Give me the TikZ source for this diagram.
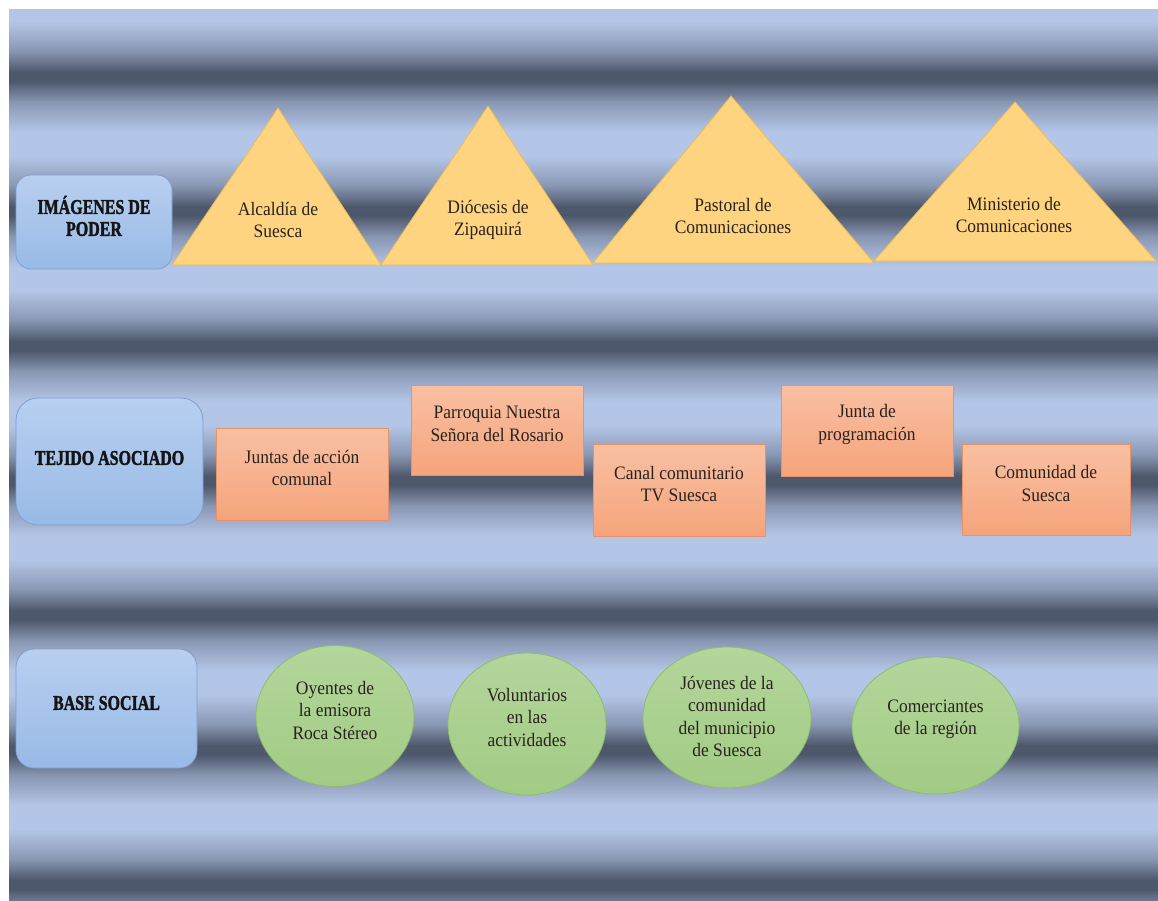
\documentclass[tikz,border=0pt]{standalone}
\usepackage{fontspec}
\setmainfont{Liberation Serif}[FakeStretch=0.92]
\newfontfamily\headfont{Liberation Serif Bold}[FakeStretch=0.76,FakeBold=1.6]
\usetikzlibrary{shapes.geometric}
\definecolor{bgL}{HTML}{B4C6E7}
\definecolor{bgM}{HTML}{8896B2}
\definecolor{bgD}{HTML}{4E586C}
\definecolor{labT}{HTML}{B8CFF0}
\definecolor{labB}{HTML}{98BAE6}
\definecolor{labE}{HTML}{809FCF}
\definecolor{triF}{HTML}{FFD480}
\definecolor{triE}{HTML}{EDBB55}
\definecolor{orT}{HTML}{F9C0A2}
\definecolor{orB}{HTML}{F5A47C}
\definecolor{orE}{HTML}{E8926A}
\definecolor{grT}{HTML}{B3D69B}
\definecolor{grB}{HTML}{A2CB84}
\definecolor{grE}{HTML}{8DBC6D}
\definecolor{txt}{HTML}{2A221E}
\tikzset{
  labbox/.style={draw=labE, line width=0.8pt, top color=labT, bottom color=labB, inner sep=0pt},
  headtxt/.style={font=\headfont\fontsize{21}{22}\selectfont, text=black!92, align=center, inner sep=0pt},
  tribox/.style={draw=triE, line width=0.8pt, fill=triF, line join=miter},
  orbox/.style={draw=orE, line width=0.8pt, top color=orT, bottom color=orB, inner sep=0pt, minimum width=172pt, minimum height=91pt},
  grell/.style={ellipse, draw=grE, line width=0.8pt, top color=grT, bottom color=grB, inner sep=0pt},
  bodytxt/.style={font=\fontsize{19}{22.5}\selectfont, text=txt, align=center, inner sep=0pt}
}
\begin{document}
\begin{tikzpicture}[x=1pt,y=-1pt]
\useasboundingbox (0,0) rectangle (1158,900);
% background stripes
\begin{scope}
\clip (9,9) rectangle (1158,900);
\fill[bgL] (9,9) rectangle (1158,900);
\foreach \k in {0,...,6} {
  \pgfmathsetmacro{\yy}{9+\k*134.7}
  \shade[top color=bgL, bottom color=bgM] (9,\yy+12) rectangle (1158,\yy+42.5);
  \shade[top color=bgM, bottom color=bgD] (9,\yy+42) rectangle (1158,\yy+63);
  \fill[bgD] (9,\yy+62.5) rectangle (1158,\yy+72.5);
  \shade[top color=bgD, bottom color=bgM] (9,\yy+72) rectangle (1158,\yy+93);
  \shade[top color=bgM, bottom color=bgL] (9,\yy+92.5) rectangle (1158,\yy+123);
}
\end{scope}

% row labels
\node[labbox, rounded corners=15pt, minimum width=156pt, minimum height=94pt] (l1) at (94,222) {};
\node[headtxt] (h1) at (94,216) {IMÁGENES DE\\PODER};
\node[labbox, rounded corners=22pt, minimum width=187pt, minimum height=127pt] (l2) at (109.5,461.5) {};
\node[headtxt] (h2) at (109.5,458) {TEJIDO ASOCIADO};
\node[labbox, rounded corners=18pt, minimum width=181pt, minimum height=119pt] (l3) at (106.5,708.5) {};
\node[headtxt] (h3) at (106.5,703) {BASE SOCIAL};

% triangles
\filldraw[tribox] (172,265) -- (278,108) -- (381,265) -- cycle;
\filldraw[tribox] (381,265) -- (488,106) -- (593,265) -- cycle;
\filldraw[tribox] (593,263) -- (731,96) -- (874,263) -- cycle;
\filldraw[tribox] (874,261) -- (1015,102) -- (1156,261) -- cycle;
\node[bodytxt] (t1) at (278,220) {Alcaldía de\\Suesca};
\node[bodytxt] (t2) at (488,220) {Diócesis de\\Zipaquirá};
\node[bodytxt] (t3) at (733,216) {Pastoral de\\Comunicaciones};
\node[bodytxt] (t4) at (1014,215) {Ministerio de\\Comunicaciones};

% orange boxes
\node[orbox, minimum height=92pt] (b1) at (302.5,474) {};
\node[bodytxt] (bt1) at (302,468) {Juntas de acción\\comunal};
\node[orbox, minimum height=90pt] (b2) at (497,430) {};
\node[bodytxt] (bt2) at (497,424) {Parroquia Nuestra\\Señora del Rosario};
\node[orbox, minimum height=92pt] (b3) at (679,490) {};
\node[bodytxt] (bt3) at (679,484) {Canal comunitario\\TV Suesca};
\node[orbox, minimum height=91pt] (b4) at (867,430.5) {};
\node[bodytxt] (bt4) at (867,424.5) {Junta de\\programación};
\node[orbox, minimum width=168pt, minimum height=91pt] (b5) at (1046,489.5) {};
\node[bodytxt] (bt5) at (1046,483.5) {Comunidad de\\Suesca};

% green ellipses
\node[grell, minimum width=158pt, minimum height=141pt] (e1) at (335,716) {};
\node[bodytxt] (et1) at (335,710) {Oyentes de\\la emisora\\Roca Stéreo};
\node[grell, minimum width=158pt, minimum height=142pt] (e2) at (527,724) {};
\node[bodytxt] (et2) at (527,717) {Voluntarios\\en las\\actividades};
\node[grell, minimum width=168pt, minimum height=141pt] (e3) at (727,717.5) {};
\node[bodytxt] (et3) at (727,716.5) {Jóvenes de la\\comunidad\\del municipio\\de Suesca};
\node[grell, minimum width=167pt, minimum height=137pt] (e4) at (935.5,725.5) {};
\node[bodytxt] (et4) at (935.5,719) {Comerciantes\\de la región};
\end{tikzpicture}
\end{document}
